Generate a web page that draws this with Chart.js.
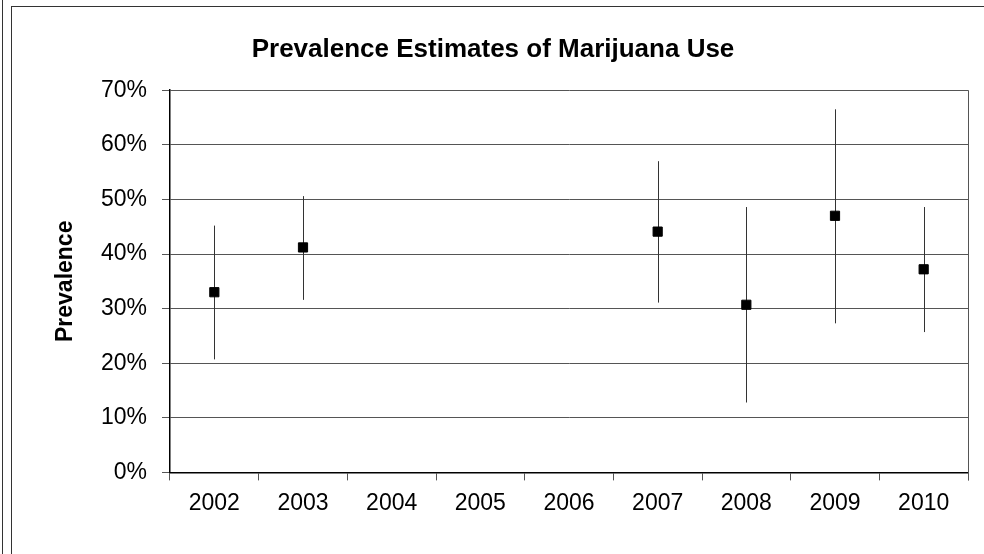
<!DOCTYPE html>
<html>
<head>
<meta charset="utf-8">
<script src="https://cdn.jsdelivr.net/npm/chart.js@4/dist/chart.umd.min.js"></script>
<style>
  html, body { margin: 0; padding: 0; background: #fff; }
  #wrap { position: relative; width: 984px; height: 554px; overflow: hidden; }
  .outer { position: absolute; left: 2px; top: -10px; width: 0; height: 600px; border-left: 1.5px solid #333; }
  .frame { position: absolute; left: 11px; top: 6px; width: 1000px; height: 600px; border: 1.5px solid #333; }
  canvas { position: absolute; left: 0; top: 0; }
</style>
</head>
<body>
<div id="wrap">
  <div class="outer"></div>
  <div class="frame"></div>
  <canvas id="prevChart" width="984" height="554"></canvas>
</div>
<script>
const years = ['2002', '2003', '2004', '2005', '2006', '2007', '2008', '2009', '2010'];
const prevalence = [33.0, 41.2, null, null, null, 44.1, 30.7, 47.0, 37.2];
const lowerCI = [20.7, 31.6, null, null, null, 31.1, 12.8, 27.3, 25.7];
const upperCI = [45.2, 50.6, null, null, null, 57.0, 48.6, 66.5, 48.6];
const yTicks = [0, 10, 20, 30, 40, 50, 60, 70];

// vertical error bars from lowerCI to upperCI
const errorBars = {
    id: 'errorBars',
    beforeDatasetsDraw(chart) {
        const ctx = chart.ctx;
        const x = chart.scales.x, y = chart.scales.y;
        ctx.save();
        ctx.strokeStyle = '#333';
        ctx.lineWidth = 1;
        years.forEach((yr, i) => {
            if (lowerCI[i] == null) return;
            const px = Math.round(x.getPixelForValue(i)) + 0.5;
            ctx.beginPath();
            ctx.moveTo(px, y.getPixelForValue(lowerCI[i]));
            ctx.lineTo(px, y.getPixelForValue(upperCI[i]));
            ctx.stroke();
        });
        ctx.restore();
    },
    afterDraw(chart) {
        // right edge of the plot box
        const a = chart.chartArea;
        const ctx = chart.ctx;
        ctx.save();
        ctx.strokeStyle = '#555';
        ctx.lineWidth = 1;
        ctx.beginPath();
        ctx.moveTo(Math.round(a.right) + 0.5, a.top);
        ctx.lineTo(Math.round(a.right) + 0.5, a.bottom + 8);
        ctx.stroke();
        ctx.restore();
    }
};

const ctx = document.getElementById('prevChart').getContext('2d');
new Chart(ctx, {
    type: 'line',
    data: {
        labels: years,
        datasets: [{
            label: 'Prevalence',
            data: prevalence,
            showLine: false,
            pointStyle: 'rect',
            pointRadius: 6.5,
            pointBorderWidth: 1,
            pointBackgroundColor: '#000',
            pointBorderColor: '#000'
        }]
    },
    options: {
        responsive: false,
        animation: false,
        layout: { padding: { left: 9, right: 7, top: 0, bottom: 28 } },
        plugins: {
            legend: { display: false },
            tooltip: { enabled: false },
            title: {
                display: true,
                text: 'Prevalence Estimates of Marijuana Use',
                color: '#000',
                font: { family: 'Liberation Sans, Arial, sans-serif', size: 26, weight: 'bold' },
                padding: { top: 34, bottom: 25 }
            }
        },
        scales: {
            x: {
                offset: true,
                grid: { offset: true, drawOnChartArea: false, drawTicks: true, tickLength: 8, color: '#555' },
                border: { color: '#000', width: 1.5 },
                ticks: {
                    color: '#000',
                    padding: 9,
                    maxRotation: 0,
                    font: { family: 'Liberation Sans, Arial, sans-serif', size: 23 }
                }
            },
            y: {
                min: 0,
                max: 70,
                afterFit: s => { s.width = 161; },
                afterBuildTicks: s => { s.ticks = yTicks.map(v => ({ value: v })); },
                grid: { color: '#555', tickLength: 8 },
                border: { color: '#000', width: 1.5 },
                title: {
                    display: true,
                    text: 'Prevalence',
                    color: '#000',
                    font: { family: 'Liberation Sans, Arial, sans-serif', size: 23, weight: 'bold' },
                    padding: { top: 43, bottom: 0 }
                },
                ticks: {
                    color: '#000',
                    padding: 15,
                    callback: v => v + '%',
                    font: { family: 'Liberation Sans, Arial, sans-serif', size: 23 }
                }
            },
            // empty right axis, only keeps the title centred like the original
            yRight: {
                position: 'right',
                min: 0,
                max: 70,
                afterFit: s => { s.width = 9; },
                grid: { display: false },
                border: { display: false },
                ticks: { display: false }
            }
        }
    },
    plugins: [errorBars]
});
</script>
</body>
</html>
